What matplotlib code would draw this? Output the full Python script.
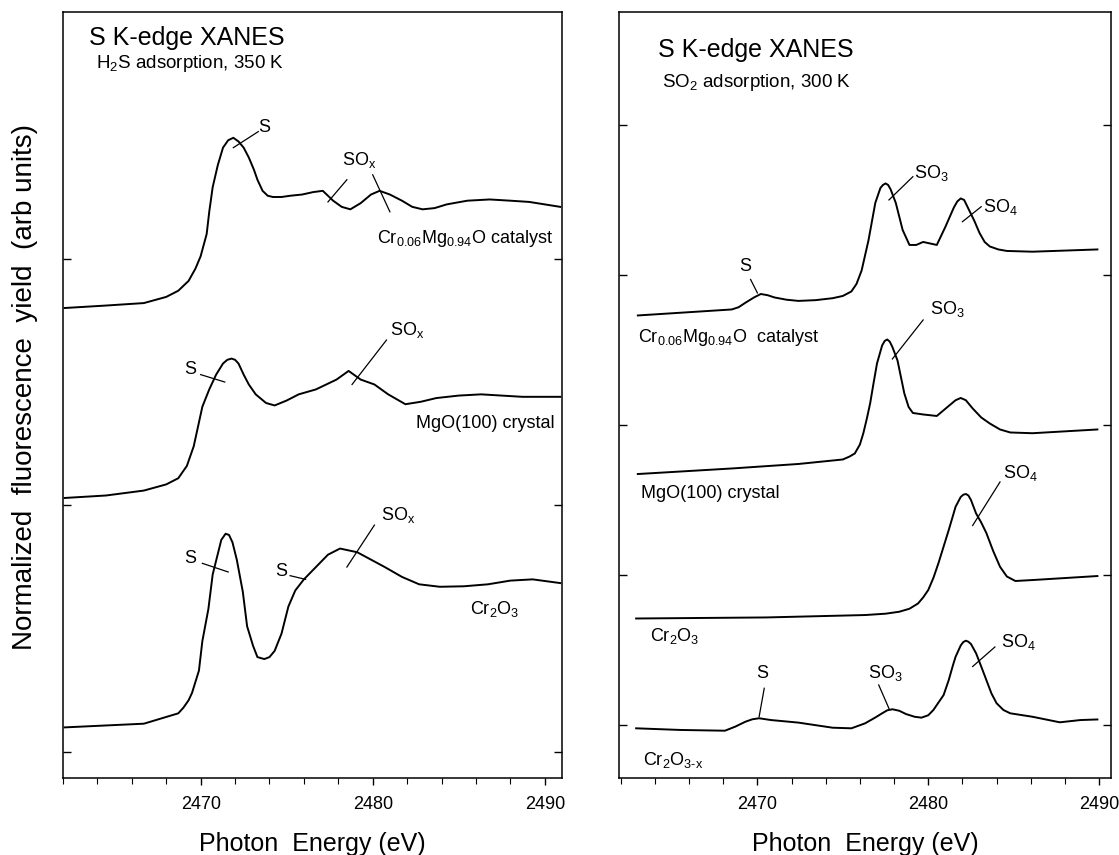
import matplotlib
matplotlib.use("Agg")
import matplotlib.pyplot as plt
from matplotlib.ticker import MultipleLocator

plt.rcParams["font.family"] = ["Liberation Sans", "DejaVu Sans"]
plt.rcParams["mathtext.fontset"] = "custom"
plt.rcParams["mathtext.rm"] = "Liberation Sans"
plt.rcParams["mathtext.it"] = "Liberation Sans:italic"

# ---- left panel: H2S adsorption, 350 K ----
e_cat_l = [2462.1, 2464.5, 2466.7, 2468.0, 2468.7, 2469.3, 2469.7, 2470.0, 2470.35, 2470.5,
           2470.7, 2471.0, 2471.3, 2471.6, 2471.9, 2472.2, 2472.5, 2472.8, 2473.1, 2473.3,
           2473.6, 2473.9, 2474.2, 2474.7, 2475.2, 2475.9, 2476.55, 2477.1, 2477.7, 2478.2,
           2478.7, 2479.3, 2479.9, 2480.4, 2481.0, 2481.7, 2482.3, 2482.9, 2483.6, 2484.3,
           2485.5, 2486.8, 2488.0, 2489.1, 2490.9]
y_cat_l = [1.80, 1.81, 1.82, 1.845, 1.87, 1.91, 1.96, 2.01, 2.10, 2.19,
           2.29, 2.38, 2.45, 2.48, 2.49, 2.475, 2.45, 2.41, 2.36, 2.32,
           2.275, 2.255, 2.25, 2.25, 2.255, 2.26, 2.27, 2.275, 2.235, 2.21,
           2.20, 2.225, 2.26, 2.275, 2.26, 2.235, 2.21, 2.20, 2.205, 2.22,
           2.235, 2.24, 2.235, 2.23, 2.21]

e_mgo_l = [2462.1, 2464.5, 2466.7, 2468.0, 2468.7, 2469.2, 2469.6, 2470.1, 2470.5, 2470.9,
           2471.3, 2471.55, 2471.8, 2472.0, 2472.2, 2472.5, 2472.8, 2473.2, 2473.8, 2474.3,
           2475.0, 2475.7, 2476.7, 2477.9, 2478.3, 2478.6, 2478.9, 2479.3, 2480.1, 2480.9,
           2481.9, 2482.8, 2483.7, 2485.0, 2486.3, 2487.5, 2488.7, 2490.9]
y_mgo_l = [1.03, 1.04, 1.06, 1.085, 1.11, 1.16, 1.24, 1.40, 1.47, 1.53,
           1.575, 1.59, 1.595, 1.59, 1.575, 1.53, 1.49, 1.45, 1.415, 1.405,
           1.425, 1.45, 1.47, 1.51, 1.53, 1.545, 1.53, 1.51, 1.49, 1.45,
           1.41, 1.42, 1.435, 1.445, 1.45, 1.445, 1.44, 1.44]

e_cr_l = [2462.1, 2466.7, 2468.7, 2469.0, 2469.3, 2469.5, 2469.9, 2470.1, 2470.45, 2470.7,
          2471.2, 2471.45, 2471.65, 2471.85, 2472.1, 2472.45, 2472.7, 2473.05, 2473.3, 2473.7,
          2474.0, 2474.3, 2474.7, 2475.1, 2475.5, 2476.0, 2476.7, 2477.4, 2478.1, 2479.1,
          2480.7, 2481.7, 2482.7, 2483.9, 2485.3, 2486.7, 2488.0, 2489.3, 2490.9]
y_cr_l = [0.10, 0.115, 0.157, 0.18, 0.21, 0.24, 0.33, 0.45, 0.58, 0.72,
          0.86, 0.885, 0.88, 0.85, 0.78, 0.65, 0.51, 0.43, 0.385, 0.377,
          0.385, 0.41, 0.48, 0.59, 0.655, 0.70, 0.75, 0.80, 0.825, 0.81,
          0.75, 0.71, 0.68, 0.67, 0.672, 0.68, 0.695, 0.70, 0.685]

# ---- right panel: SO2 adsorption, 300 K ----
e_cat_r = [2463.0, 2468.5, 2468.9, 2469.3, 2469.8, 2470.2, 2470.6, 2471.0, 2471.7, 2472.4,
           2473.4, 2474.4, 2475.0, 2475.5, 2475.8, 2476.1, 2476.5, 2476.9, 2477.2, 2477.35,
           2477.5, 2477.65, 2477.8, 2478.1, 2478.5, 2478.9, 2479.3, 2479.7, 2480.1, 2480.5,
           2481.0, 2481.5, 2481.7, 2481.9, 2482.1, 2482.4, 2482.7, 2483.0, 2483.3, 2483.6,
           2484.1, 2484.6, 2486.1, 2489.9]
y_cat_r = [2.73, 2.77, 2.785, 2.815, 2.85, 2.873, 2.865, 2.85, 2.835, 2.827,
           2.832, 2.845, 2.86, 2.89, 2.94, 3.03, 3.23, 3.48, 3.58, 3.60,
           3.61, 3.60, 3.57, 3.48, 3.30, 3.20, 3.20, 3.22, 3.21, 3.20,
           3.32, 3.45, 3.49, 3.51, 3.50, 3.43, 3.36, 3.28, 3.22, 3.19,
           3.17, 3.16, 3.155, 3.17]

e_mgo_r = [2463.0, 2468.5, 2472.4, 2475.0, 2475.4, 2475.7, 2476.0, 2476.2, 2476.4, 2476.6,
           2476.8, 2477.0, 2477.3, 2477.45, 2477.6, 2477.75, 2477.9, 2478.2, 2478.4, 2478.6,
           2478.85, 2479.1, 2479.7, 2480.5, 2481.2, 2481.6, 2481.9, 2482.2, 2482.6, 2483.1,
           2483.6, 2484.2, 2484.8, 2486.1, 2489.9]
y_mgo_r = [1.673, 1.71, 1.74, 1.77, 1.79, 1.81, 1.87, 1.945, 2.04, 2.145,
           2.28, 2.41, 2.53, 2.56, 2.57, 2.555, 2.52, 2.43, 2.32, 2.21,
           2.12, 2.08, 2.07, 2.06, 2.127, 2.165, 2.18, 2.165, 2.11, 2.05,
           2.01, 1.97, 1.95, 1.945, 1.97]

e_cr_r = [2462.9, 2470.5, 2476.3, 2477.5, 2478.3, 2478.9, 2479.4, 2479.7, 2480.0, 2480.3,
          2480.6, 2480.9, 2481.2, 2481.6, 2481.9, 2482.05, 2482.2, 2482.35, 2482.5, 2482.8,
          2483.1, 2483.4, 2483.8, 2484.2, 2484.6, 2485.1, 2486.2, 2489.9]
y_cr_r = [0.71, 0.717, 0.733, 0.742, 0.755, 0.775, 0.81, 0.85, 0.90, 0.98,
          1.08, 1.19, 1.30, 1.455, 1.52, 1.535, 1.54, 1.53, 1.50, 1.41,
          1.35, 1.28, 1.16, 1.055, 0.99, 0.96, 0.967, 0.993]

e_crx_r = [2462.9, 2465.5, 2468.1, 2468.7, 2469.3, 2469.7, 2470.1, 2470.8, 2472.4, 2474.4,
           2475.5, 2476.3, 2476.9, 2477.3, 2477.6, 2477.9, 2478.3, 2478.7, 2479.2, 2479.6,
           2480.0, 2480.3, 2480.6, 2480.9, 2481.2, 2481.45, 2481.6, 2481.9, 2482.05, 2482.2,
           2482.35, 2482.5, 2482.8, 2483.1, 2483.4, 2483.7, 2484.0, 2484.4, 2484.8, 2486.1,
           2487.7, 2488.9, 2489.9]
y_crx_r = [-0.022, -0.033, -0.038, -0.011, 0.022, 0.038, 0.045, 0.033, 0.016, -0.018,
           -0.022, 0.011, 0.05, 0.078, 0.098, 0.105, 0.095, 0.073, 0.055, 0.049,
           0.065, 0.10, 0.15, 0.20, 0.30, 0.40, 0.455, 0.53, 0.553, 0.562,
           0.555, 0.54, 0.478, 0.39, 0.30, 0.21, 0.145, 0.10, 0.078, 0.055,
           0.018, 0.033, 0.037]

# peak labels (text, x, y) and leader lines ((x0, y0), (x1, y1))
peaks_l = [("S", 2473.7, 2.53), (r"SO$_\mathregular{x}$", 2479.2, 2.40),
           ("S", 2469.4, 1.55), (r"SO$_\mathregular{x}$", 2482.0, 1.71),
           ("S", 2469.4, 0.785), ("S", 2474.7, 0.73), (r"SO$_\mathregular{x}$", 2481.5, 0.96)]
leaders_l = [((2473.35, 2.515), (2471.9, 2.45)), ((2478.5, 2.32), (2477.4, 2.23)),
             ((2480.0, 2.34), (2481.0, 2.19)), ((2470.0, 1.53), (2471.4, 1.50)),
             ((2480.8, 1.67), (2478.8, 1.49)), ((2470.1, 0.765), (2471.6, 0.73)),
             ((2475.2, 0.715), (2476.1, 0.70)), ((2480.1, 0.92), (2478.5, 0.75))]
samples_l = [(r"Cr$_\mathregular{0.06}$Mg$_\mathregular{0.94}$O catalyst", 2490.5, 2.08),
             ("MgO(100) crystal", 2490.6, 1.33),
             (r"Cr$_\mathregular{2}$O$_\mathregular{3}$", 2488.5, 0.58)]

peaks_r = [("S", 2469.3, 3.055), (r"SO$_\mathregular{3}$", 2480.2, 3.68), (r"SO$_\mathregular{4}$", 2484.2, 3.455),
           (r"SO$_\mathregular{3}$", 2481.1, 2.77), (r"SO$_\mathregular{4}$", 2485.4, 1.68),
           ("S", 2470.3, 0.345), (r"SO$_\mathregular{3}$", 2477.5, 0.345), (r"SO$_\mathregular{4}$", 2485.3, 0.555)]
leaders_r = [((2469.6, 2.97), (2470.0, 2.88)), ((2479.1, 3.655), (2477.7, 3.50)),
             ((2483.1, 3.455), (2482.0, 3.355)), ((2479.7, 2.70), (2477.9, 2.44)),
             ((2484.2, 1.62), (2482.6, 1.33)), ((2470.4, 0.245), (2470.1, 0.055)),
             ((2477.1, 0.267), (2477.7, 0.11)), ((2483.9, 0.52), (2482.6, 0.39))]
samples_r = [(r"Cr$_\mathregular{0.06}$Mg$_\mathregular{0.94}$O  catalyst", 2463.0, 2.58),
             ("MgO(100) crystal", 2463.2, 1.545),
             (r"Cr$_\mathregular{2}$O$_\mathregular{3}$", 2463.7, 0.59),
             (r"Cr$_\mathregular{2}$O$_\text{3-x}$", 2463.3, -0.233)]


def style_axes(ax, xlim, ylim, yticks):
    ax.set_xlim(*xlim)
    ax.set_ylim(*ylim)
    ax.set_xticks([2470, 2480, 2490])
    ax.xaxis.set_minor_locator(MultipleLocator(2))
    ax.set_yticks(yticks)
    ax.set_yticklabels([])
    ax.tick_params(axis="x", which="major", direction="out", length=5, width=1, labelsize=13, pad=8, top=False)
    ax.tick_params(axis="x", which="minor", direction="out", length=4, width=0.8, top=False)
    ax.tick_params(axis="y", which="major", direction="in", length=6, width=1, left=True, right=True)
    for sp in ax.spines.values():
        sp.set_linewidth(1.1)
    ax.set_xlabel("Photon  Energy (eV)", fontsize=18, labelpad=14)


fig = plt.figure(figsize=(11.19, 8.55), dpi=100)
ax1 = fig.add_axes([0.0563, 0.0901, 0.4459, 0.8959])
ax2 = fig.add_axes([0.5532, 0.0901, 0.4397, 0.8959])

# left
for e, y in [(e_cat_l, y_cat_l), (e_mgo_l, y_mgo_l), (e_cr_l, y_cr_l)]:
    ax1.plot(e, y, color="black", lw=1.4, solid_joinstyle="round")
for (x0, y0), (x1, y1) in leaders_l:
    ax1.plot([x0, x1], [y0, y1], color="black", lw=0.9)
for t, x, y in peaks_l:
    ax1.text(x, y, t, fontsize=13, ha="center", va="center")
for t, x, y in samples_l:
    ax1.text(x, y, t, fontsize=13, ha="right", va="center")
ax1.text(2463.5, 2.896, "S K-edge XANES", fontsize=18, ha="left", va="center")
ax1.text(2463.9, 2.79, r"H$_\mathregular{2}$S adsorption, 350 K", fontsize=13.5, ha="left", va="center")
style_axes(ax1, (2462, 2491), (-0.105, 3.0), [0, 1, 2])
ax1.set_ylabel("Normalized  fluorescence  yield  (arb units)", fontsize=20)
ax1.yaxis.set_label_coords(-0.076, 0.51)
ax1.yaxis.label.set_va("center")

# right
for e, y in [(e_cat_r, y_cat_r), (e_mgo_r, y_mgo_r), (e_cr_r, y_cr_r), (e_crx_r, y_crx_r)]:
    ax2.plot(e, y, color="black", lw=1.4, solid_joinstyle="round")
for (x0, y0), (x1, y1) in leaders_r:
    ax2.plot([x0, x1], [y0, y1], color="black", lw=0.9)
for t, x, y in peaks_r:
    ax2.text(x, y, t, fontsize=13, ha="center", va="center")
for t, x, y in samples_r:
    ax2.text(x, y, t, fontsize=13, ha="left", va="center")
ax2.text(2464.2, 4.5, "S K-edge XANES", fontsize=18, ha="left", va="center")
ax2.text(2464.4, 4.28, r"SO$_\mathregular{2}$ adsorption, 300 K", fontsize=13.5, ha="left", va="center")
style_axes(ax2, (2461.9, 2490.7), (-0.353, 4.753), [0, 1, 2, 3, 4])

fig.savefig("out.png", dpi=100)
